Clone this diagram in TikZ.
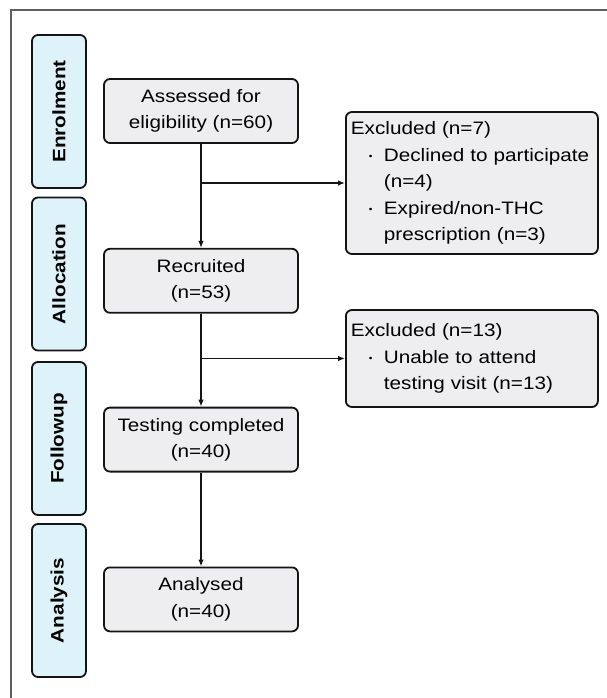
\documentclass[tikz,border=0pt]{standalone}
\usepackage{fontspec}
\setmainfont[FakeStretch=1.15]{Liberation Sans}
\usepackage{xcolor}
\usepackage{tikz}
\usetikzlibrary{arrows.meta,positioning}
\definecolor{sidebg}{RGB}{222,243,249}
\definecolor{boxbg}{RGB}{238,237,239}
\definecolor{boxline}{RGB}{20,20,20}
\definecolor{frameline}{RGB}{95,95,95}
\tikzset{
  box/.style={
    draw=boxline,
    fill=boxbg,
    line width=1.8pt,
    rounded corners=6pt,
    align=center,
    minimum width=194pt,
    minimum height=64pt,
    font=\fontsize{18}{26.5}\selectfont
  },
  exclbox/.style={
    draw=boxline,
    fill=boxbg,
    line width=1.8pt,
    rounded corners=6pt,
    align=left,
    inner xsep=5pt,
    text width=242pt,
    font=\fontsize{18}{26.5}\selectfont
  },
  sidebox/.style={
    draw=boxline,
    fill=sidebg,
    line width=1.8pt,
    rounded corners=6pt,
    rotate=90,
    minimum width=153pt,
    minimum height=54pt,
    font=\fontsize{18}{22}\selectfont\bfseries
  },
  arrow/.style={-{Latex[length=7pt,width=5.5pt]}, line width=1.3pt, draw=boxline},
  plain/.style={line width=1.3pt, draw=boxline}
}
\newcommand{\bul}{\hspace*{18pt}\makebox[15pt][l]{\raisebox{1.5pt}{\fontsize{9}{9}\selectfont\textbullet}}}
\newcommand{\ind}{\hspace*{33pt}}

\begin{document}
\begin{tikzpicture}[x=1pt, y=1pt, node distance=104pt]
  \useasboundingbox (0,0) rectangle (607,-698);
  \draw[frameline, line width=1.2pt] (11,-698) |- (607,-10);

  % phase labels
  \node[sidebox] (enrol) at (59,-111.5) {Enrolment};
  \node[sidebox] (alloc) at (59,-274) {Allocation};
  \node[sidebox] (follow) at (59,-438.5) {Followup};
  \node[sidebox] (analys) at (59,-600.5) {Analysis};

  % main flow
  \node[box] (assess) at (201,-111) {Assessed for\\eligibility (n=60)};
  \node[box, below=of assess] (recruit) {Recruited\\(n=53)};
  \node[box, below=93pt of recruit] (testing) {Testing completed\\(n=40)};
  \node[box, below=94pt of testing] (analysed) {Analysed\\(n=40)};

  \node[exclbox, anchor=west, minimum height=142pt] (excl1) at (345,-183) {Excluded (n=7)\\
    \bul Declined to participate\\
    \ind (n=4)\\
    \bul Expired/non-THC\\
    \ind prescription (n=3)};
  \node[exclbox, anchor=west, minimum height=97pt] (excl2) at (345,-358.5) {Excluded (n=13)\\
    \bul Unable to attend\\
    \ind testing visit (n=13)};

  \coordinate (b1) at (assess.south |- excl1.west);
  \coordinate (b2) at (recruit.south |- excl2.west);

  \draw[arrow] (assess) -- (recruit);
  \draw[arrow] (recruit) -- (testing);
  \draw[arrow] (testing) -- (analysed);
  \draw[arrow] (b1) -- (excl1);
  \draw[arrow] (b2) -- (excl2);
\end{tikzpicture}
\end{document}
